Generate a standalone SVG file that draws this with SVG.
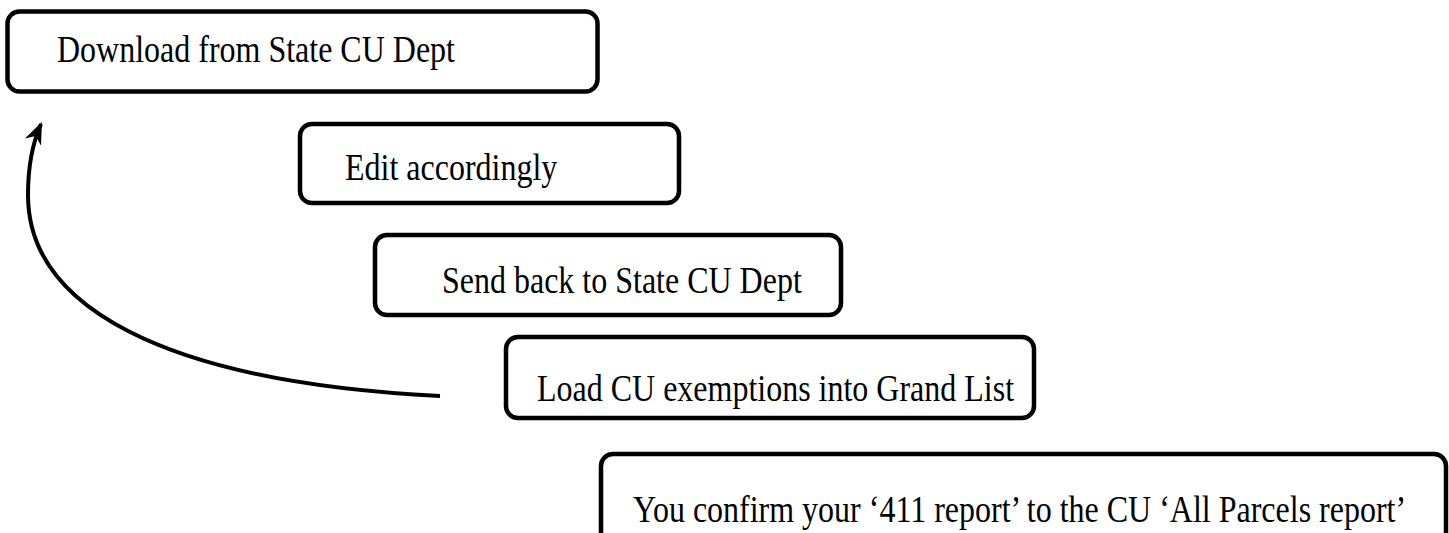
<svg xmlns="http://www.w3.org/2000/svg" width="1449" height="533" viewBox="0 0 1449 533">
  <style>
    .box { fill: #ffffff; stroke: #000000; stroke-width: 4.5; }
    .lbl { font-family: "Liberation Serif", "Times New Roman", serif; font-size: 32px; fill: #000000; }
    .conn { fill: none; stroke: #000000; stroke-width: 4; }
  </style>
  <defs>
    <marker id="arrowhead" viewBox="0 0 10 10" refX="9" refY="5" markerWidth="5.5" markerHeight="5.5" markerUnits="strokeWidth" orient="auto">
      <path d="M0,1 L10,5 L0,9 L3,5 Z" fill="#000000"/>
    </marker>
  </defs>

  <g id="connectors">
    <path class="conn" d="M440,396 C160,382 28,305 28,195 C28,165 33,142 41,124" marker-end="url(#arrowhead)"/>
  </g>

  <g id="node-download">
    <rect class="box" x="7.5" y="11.5" width="590" height="80" rx="12"/>
    <text class="lbl" transform="translate(57,62) scale(1,1.2)">Download from State CU Dept</text>
  </g>

  <g id="node-edit">
    <rect class="box" x="300" y="124" width="379" height="79" rx="12"/>
    <text class="lbl" transform="translate(345,180) scale(1,1.2)">Edit accordingly</text>
  </g>

  <g id="node-send">
    <rect class="box" x="375" y="235" width="466" height="80" rx="12"/>
    <text class="lbl" transform="translate(442,293) scale(1,1.2)">Send back to State CU Dept</text>
  </g>

  <g id="node-load">
    <rect class="box" x="506" y="337" width="528" height="81" rx="12"/>
    <text class="lbl" transform="translate(537,401) scale(1,1.2)">Load CU exemptions into Grand List</text>
  </g>

  <g id="node-confirm">
    <rect class="box" x="601" y="454" width="845" height="100" rx="12"/>
    <text class="lbl" transform="translate(633,522) scale(1,1.2)">You confirm your ‘411 report’ to the CU ‘All Parcels report’</text>
  </g>
</svg>
